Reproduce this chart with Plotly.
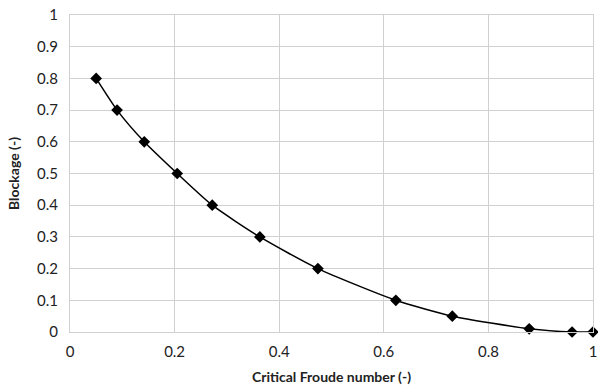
import plotly.graph_objects as go

froude = [0.05, 0.09, 0.142, 0.205, 0.272, 0.363, 0.474, 0.623, 0.731, 0.878, 0.96, 1.0]
blockage = [0.8, 0.7, 0.6, 0.5, 0.4, 0.3, 0.2, 0.1, 0.05, 0.01, 0.0, 0.0]

x_ticks = [0, 0.2, 0.4, 0.6, 0.8, 1]
x_labels = ["0", "0.2", "0.4", "0.6", "0.8", "1"]
y_ticks = [0, 0.1, 0.2, 0.3, 0.4, 0.5, 0.6, 0.7, 0.8, 0.9, 1]
y_labels = ["0", "0.1", "0.2", "0.3", "0.4", "0.5", "0.6", "0.7", "0.8", "0.9", "1"]

fig = go.Figure()
fig.add_trace(go.Scatter(
    x=froude, y=blockage, mode="lines+markers",
    line=dict(color="black", width=1.5, shape="spline", smoothing=0.6),
    marker=dict(symbol="diamond", size=9, color="black"),
    cliponaxis=False,
    showlegend=False,
))

font_family = "Lato, Open Sans, sans-serif"
fig.update_layout(
    width=598, height=385,
    margin=dict(l=70, r=5, t=15, b=53, autoexpand=False),
    paper_bgcolor="white", plot_bgcolor="white",
    font=dict(family=font_family, size=15, color="#222"),
)
fig.update_xaxes(
    range=[0, 1], tickvals=x_ticks, ticktext=x_labels,
    showgrid=True, gridcolor="#d0d0d0", gridwidth=1,
    zeroline=False, showline=True, linecolor="#d0d0d0", mirror=True,
    ticks="outside", ticklen=6, tickcolor="rgba(0,0,0,0)",
    automargin=False, ticklabeloverflow="allow",
    title=dict(text="<b>Critical Froude number (-)</b>", font=dict(size=14), standoff=13),
)
fig.update_yaxes(
    range=[0, 1], tickvals=y_ticks, ticktext=y_labels,
    showgrid=True, gridcolor="#d0d0d0", gridwidth=1,
    zeroline=False, showline=True, linecolor="#d0d0d0", mirror=True,
    ticks="outside", ticklen=8, tickcolor="rgba(0,0,0,0)",
    automargin=False, ticklabeloverflow="allow",
    title=dict(text="<b>Blockage (-)</b>", font=dict(size=14), standoff=14),
)
fig.write_html(
    "out.html",
    config={"displayModeBar": False},
    post_script="document.body.style.margin='0';document.body.style.overflow='hidden';",
)
